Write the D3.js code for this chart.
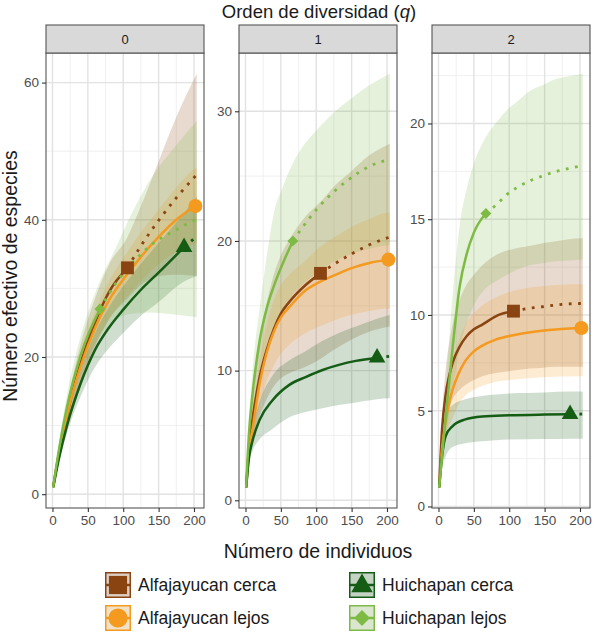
<!DOCTYPE html>
<html>
<head>
<meta charset="utf-8">
<title>Orden de diversidad</title>
<style>
  body { margin: 0; background: #fff; }
  text { font-family: "Liberation Sans", Arial, sans-serif; }
</style>
</head>
<body>
<div id="chart"></div>
<script src="https://cdn.jsdelivr.net/npm/d3@7"></script>
<script>
// series, panels and ticks
var seriesNames = ["Alfajayucan cerca", "Alfajayucan lejos", "Huichapan cerca", "Huichapan lejos"];
var seriesColors = ["#8a4411", "#f39a1f", "#155c15", "#7dbb44"];
var seriesShapes = ["square", "circle", "triangle", "diamond"];
var observedN = [106, 202, 186, 67];
var panelLabels = ["0", "1", "2"];
var xTicks = [0, 50, 100, 150, 200];
var yTicks = [[0, 20, 40, 60], [0, 10, 20, 30], [0, 5, 10, 15, 20]];

// rows: [individuos, estimado, IC inferior, IC superior]
// q = 0
var acCerca0 = [[1,1,1,1],[10,6.5,5.5,7.5],[20,11.3,9.7,12.9],[40,19.2,16.5,21.9],[60,25,21.5,28.5],[80,29.5,25.5,33.5],[106,33,28.5,37.5],[125,36.2,30.5,42],[150,39.9,31.8,48.5],[175,43.2,32,55],[204,46.6,31.8,61.3]];
var acLejos0 = [[1,1,1,1],[10,6.3,5.6,7],[20,11.3,10,12.6],[40,18.7,16.8,20.6],[60,24.2,21.8,26.6],[80,28.3,25.5,31.1],[100,31.3,28.2,34.4],[125,34.6,31,38.2],[150,37.5,33.5,41.5],[175,40,35.3,44.7],[202,42,36.5,47.5],[204,42.1,36.6,47.6]];
var hcCerca0 = [[1,1,1,1],[10,5.6,5,6.2],[20,9.8,8.7,10.9],[40,16.2,14.3,18.1],[60,21,18.5,23.5],[80,24.3,21.3,27.3],[100,26.9,23.5,30.3],[125,29.8,26,33.6],[150,32.3,28,36.6],[186,36,31,41],[204,37.6,31.8,43.4]];
var hcLejos0 = [[1,1,1,1],[10,7,6,8],[20,12.5,10.8,14.2],[40,20.3,17.5,23.1],[67,27,23,31],[90,30.8,25.5,36],[112,33.6,26.3,40.9],[139,36.3,26.5,46],[172,38.4,26.2,50.5],[204,40.1,25.8,54.4]];
// q = 1
var acCerca1 = [[1,1,1,1],[5,4.2,3.3,5.1],[10,6.3,4.5,8],[20,9.5,6.5,12.3],[30,11.6,7.8,15.2],[40,13.2,8.8,17.4],[50,14.4,9.4,18.9],[62,15.3,9.8,20.1],[85,16.6,10.3,21.9],[106,17.5,10.9,23],[125,18.2,11.6,24.2],[150,19,12.4,25.4],[175,19.7,13,26.6],[204,20.3,13.4,27.5]];
var acLejos1 = [[1,1,1,1],[5,3.8,3.2,4.4],[10,5.5,4.5,6.5],[20,9,7.3,10.7],[30,11.4,9.2,13.5],[40,13,10.4,15.4],[50,14.1,11.3,16.6],[62,14.9,12,17.4],[85,16.2,12.9,18.5],[100,16.7,13.3,19.3],[132,17.5,14,20.5],[150,17.9,14.3,21.1],[175,18.3,14.6,21.7],[202,18.56,14.8,22.2],[204,18.57,14.8,22.2]];
var hcCerca1 = [[1,1,1,1],[5,3.3,2.9,3.8],[10,4.6,3.8,5.5],[20,6.2,4.7,7.6],[38,7.7,5.5,9.6],[62,8.9,6.4,10.8],[85,9.5,6.8,11.5],[109,10.05,7.1,12.3],[132,10.44,7.35,12.9],[156,10.75,7.55,13.4],[186,11,7.8,14],[204,11.1,7.86,14.3]];
var hcLejos1 = [[1,1,1,1],[5,5.2,4.3,6.2],[10,8.2,6.5,10],[20,12.3,9.8,14.8],[30,14.8,11.9,18.8],[40,16.5,13.2,22.1],[53,18.3,14.6,24.2],[67,20,15.9,26],[80,21,16.6,27.2],[100,22.4,17.5,28.5],[125,23.8,18.4,29.9],[150,24.9,19,31],[175,25.75,19.4,32],[204,26.3,19.7,32.9]];
// q = 2
var acCerca2 = [[1,1,1,1],[5,4,3.3,4.7],[10,5.8,4.5,7.1],[15,6.8,5.1,8.5],[20,7.5,5.6,9.5],[30,8.35,6.1,10.8],[40,8.9,6.4,11.6],[50,9.25,6.6,12.1],[62,9.5,6.8,12.6],[85,10,7,13.2],[106,10.2,7.1,13.45],[128,10.35,7.2,13.6],[147,10.43,7.25,13.75],[166,10.52,7.3,13.85],[184,10.58,7.3,13.95],[204,10.6,7.3,14]];
var acLejos2 = [[1,1,1,1],[5,3,2.6,3.4],[10,4.4,3.5,5.3],[15,5.4,4.2,6.6],[20,6.1,4.6,7.6],[28,6.9,5.3,8.6],[38,7.6,5.8,9.5],[50,8.1,6.1,10.1],[62,8.4,6.3,10.5],[80,8.7,6.5,10.9],[100,8.9,6.6,11.2],[146,9.18,6.75,11.5],[202,9.32,6.8,11.6],[204,9.32,6.8,11.6]];
var hcCerca2 = [[1,1,1,1],[5,2.6,2,3.2],[10,3.66,2.6,4.7],[20,4.2,3.1,5.3],[38,4.55,3.3,5.6],[62,4.7,3.4,5.77],[100,4.76,3.5,5.9],[150,4.8,3.52,5.95],[186,4.82,3.54,6],[204,4.83,3.54,6]];
var hcLejos2 = [[1,1,1,1],[10,4.6,3.5,6],[20,8.3,6,11],[30,11.5,8.3,14.7],[40,13.2,9.6,16.6],[50,14.3,10.5,17.9],[67,15.3,11.4,19.3],[83,15.8,11.8,20.1],[97,16.3,12.1,20.7],[113,16.7,12.4,21.2],[129,17,12.6,21.7],[147,17.26,12.7,22],[164,17.47,12.8,22.3],[183,17.64,12.85,22.45],[204,17.8,12.9,22.6]];

var panelData = [
  [acCerca0, acLejos0, hcCerca0, hcLejos0],
  [acCerca1, acLejos1, hcCerca1, hcLejos1],
  [acCerca2, acLejos2, hcCerca2, hcLejos2]
];

(function(){
  "use strict";

  var width = 600, height = 635;
  var panelLeft = [46, 239, 432];
  var panelW = 158;
  var stripTop = 25, panelTop = 53, panelBottom = 508;

  var svg = d3.select("#chart").append("svg")
    .attr("width", width)
    .attr("height", height)
    .style("background", "#fff");

  // ggplot-like expanded domain
  function expand(lo, hi) {
    var d = (hi - lo) * 0.05;
    return [lo - d, hi + d];
  }

  var allN = [];
  panelData.forEach(function(p){ p.forEach(function(s){ s.forEach(function(r){ allN.push(r[0]); }); }); });
  var xDomain = expand(d3.min(allN), d3.max(allN));

  var symbolTypes = {
    square: d3.symbolSquare,
    circle: d3.symbolCircle,
    triangle: d3.symbolTriangle,
    diamond: d3.symbolDiamond2
  };
  var symbolSizes = { square: 165, circle: 155, triangle: 120, diamond: 75 };
  var keySizes = { square: 330, circle: 290, triangle: 200, diamond: 160 };

  panelData.forEach(function(series, pi){
    var x0 = panelLeft[pi];
    var x = d3.scaleLinear().domain(xDomain).range([x0, x0 + panelW]);

    var vals = [];
    series.forEach(function(s){ s.forEach(function(r){ vals.push(r[2], r[3]); }); });
    var y = d3.scaleLinear().domain(expand(d3.min(vals), d3.max(vals))).range([panelBottom, panelTop]);

    var g = svg.append("g");
    var clipId = "clip" + pi;
    svg.append("clipPath").attr("id", clipId).append("rect")
      .attr("x", x0).attr("y", panelTop).attr("width", panelW).attr("height", panelBottom - panelTop);

    // grid
    var yt = yTicks[pi];
    var step = yt[1] - yt[0];
    var yMinor = [];
    for (var v = yt[0] - step / 2; v <= y.domain()[1]; v += step) {
      if (v >= y.domain()[0]) yMinor.push(v);
    }
    var xMinor = [];
    for (var u = -25; u <= xDomain[1]; u += 50) { if (u >= xDomain[0]) xMinor.push(u); }

    g.selectAll(".ymin").data(yMinor).enter().append("line")
      .attr("x1", x0).attr("x2", x0 + panelW)
      .attr("y1", function(d){ return y(d); }).attr("y2", function(d){ return y(d); })
      .attr("stroke", "#ececec").attr("stroke-width", 0.8);
    g.selectAll(".xmin").data(xMinor).enter().append("line")
      .attr("y1", panelTop).attr("y2", panelBottom)
      .attr("x1", function(d){ return x(d); }).attr("x2", function(d){ return x(d); })
      .attr("stroke", "#ececec").attr("stroke-width", 0.8);
    g.selectAll(".ymaj").data(yt).enter().append("line")
      .attr("x1", x0).attr("x2", x0 + panelW)
      .attr("y1", function(d){ return y(d); }).attr("y2", function(d){ return y(d); })
      .attr("stroke", "#e2e2e2").attr("stroke-width", 1.4);
    g.selectAll(".xmaj").data(xTicks).enter().append("line")
      .attr("y1", panelTop).attr("y2", panelBottom)
      .attr("x1", function(d){ return x(d); }).attr("x2", function(d){ return x(d); })
      .attr("stroke", "#e2e2e2").attr("stroke-width", 1.4);

    var plot = g.append("g").attr("clip-path", "url(#" + clipId + ")");

    var area = d3.area()
      .x(function(d){ return x(d[0]); })
      .y0(function(d){ return y(d[2]); })
      .y1(function(d){ return y(d[3]); })
      .curve(d3.curveMonotoneX);
    var line = d3.line()
      .x(function(d){ return x(d[0]); })
      .y(function(d){ return y(d[1]); })
      .curve(d3.curveMonotoneX);

    // confidence bands
    series.forEach(function(s, si){
      plot.append("path").datum(s)
        .attr("d", area)
        .attr("fill", seriesColors[si])
        .attr("fill-opacity", 0.2);
    });

    // rarefaction (solid) and extrapolation (dotted)
    series.forEach(function(s, si){
      var nObs = observedN[si];
      var rare = s.filter(function(r){ return r[0] <= nObs; });
      var extra = s.filter(function(r){ return r[0] >= nObs; });
      plot.append("path").datum(rare)
        .attr("d", line).attr("fill", "none")
        .attr("stroke", seriesColors[si]).attr("stroke-width", 2.5);
      if (extra.length > 1) {
        plot.append("path").datum(extra)
          .attr("d", line).attr("fill", "none")
          .attr("stroke", seriesColors[si]).attr("stroke-width", 2.8)
          .attr("stroke-dasharray", "2.8,6.5");
      }
    });

    // observed points
    series.forEach(function(s, si){
      var nObs = observedN[si];
      var r = s.filter(function(d){ return d[0] === nObs; })[0];
      var shape = seriesShapes[si];
      plot.append("path")
        .attr("d", d3.symbol().type(symbolTypes[shape]).size(symbolSizes[shape]))
        .attr("transform", "translate(" + x(r[0]) + "," + y(r[1]) + ")")
        .attr("fill", seriesColors[si]);
    });

    // panel border
    g.append("rect")
      .attr("x", x0).attr("y", panelTop).attr("width", panelW).attr("height", panelBottom - panelTop)
      .attr("fill", "none").attr("stroke", "#555").attr("stroke-width", 1.1);

    // strip
    g.append("rect")
      .attr("x", x0).attr("y", stripTop).attr("width", panelW).attr("height", panelTop - stripTop)
      .attr("fill", "#d9d9d9").attr("stroke", "#555").attr("stroke-width", 1.1);
    g.append("text")
      .attr("x", x0 + panelW / 2).attr("y", (stripTop + panelTop) / 2 + 5)
      .attr("text-anchor", "middle").attr("font-size", 13).attr("fill", "#1a1a1a")
      .text(panelLabels[pi]);

    // axes
    var yAxis = d3.axisLeft(y).tickValues(yt).tickSize(4).tickPadding(3);
    var ya = g.append("g").attr("transform", "translate(" + x0 + ",0)").call(yAxis);
    var xAxis = d3.axisBottom(x).tickValues(xTicks).tickSize(4).tickPadding(3);
    var xa = g.append("g").attr("transform", "translate(0," + panelBottom + ")").call(xAxis);
    [ya, xa].forEach(function(a){
      a.select(".domain").remove();
      a.selectAll(".tick line").attr("stroke", "#333").attr("stroke-width", 1.1);
      a.selectAll(".tick text").attr("fill", "#4d4d4d").attr("font-size", 13.5)
        .attr("font-family", "'Liberation Sans', Arial, sans-serif");
    });
  });

  // titles
  var title = svg.append("text")
    .attr("x", 319).attr("y", 18)
    .attr("text-anchor", "middle").attr("font-size", 18.5).attr("fill", "#1a1a1a");
  title.append("tspan").text("Orden de diversidad (");
  title.append("tspan").attr("font-style", "italic").text("q");
  title.append("tspan").text(")");

  svg.append("text")
    .attr("transform", "translate(17,276) rotate(-90)")
    .attr("text-anchor", "middle").attr("font-size", 19.5).attr("fill", "#1a1a1a")
    .text("Número efectivo de especies");

  svg.append("text")
    .attr("x", 318).attr("y", 558)
    .attr("text-anchor", "middle").attr("font-size", 19.5).attr("fill", "#1a1a1a")
    .text("Número de individuos");

  // legend
  var legCols = [105, 349];
  var legRows = [585, 618];
  var keySize = 26;
  seriesNames.forEach(function(name, si){
    var lx = legCols[Math.floor(si / 2)];
    var ly = legRows[si % 2];
    var key = svg.append("g").attr("transform", "translate(" + lx + "," + (ly - keySize / 2) + ")");
    key.append("rect").attr("width", keySize).attr("height", keySize).attr("fill", "#f2f2f2");
    key.append("rect").attr("x", 0.75).attr("y", 0.75)
      .attr("width", keySize - 1.5).attr("height", keySize - 1.5)
      .attr("fill", seriesColors[si]).attr("fill-opacity", 0.2)
      .attr("stroke", seriesColors[si]).attr("stroke-width", 1.5);
    key.append("line").attr("x1", 1).attr("x2", keySize - 1)
      .attr("y1", keySize / 2).attr("y2", keySize / 2)
      .attr("stroke", seriesColors[si]).attr("stroke-width", 2.5);
    var shape = seriesShapes[si];
    key.append("path")
      .attr("d", d3.symbol().type(symbolTypes[shape]).size(keySizes[shape]))
      .attr("transform", "translate(" + keySize / 2 + "," + (keySize / 2 + (shape === "triangle" ? 1 : 0)) + ")")
      .attr("fill", seriesColors[si]);
    svg.append("text")
      .attr("x", lx + keySize + 7).attr("y", ly + 6)
      .attr("font-size", 17.5).attr("fill", "#1a1a1a")
      .text(name);
  });
})();
</script>
</body>
</html>
